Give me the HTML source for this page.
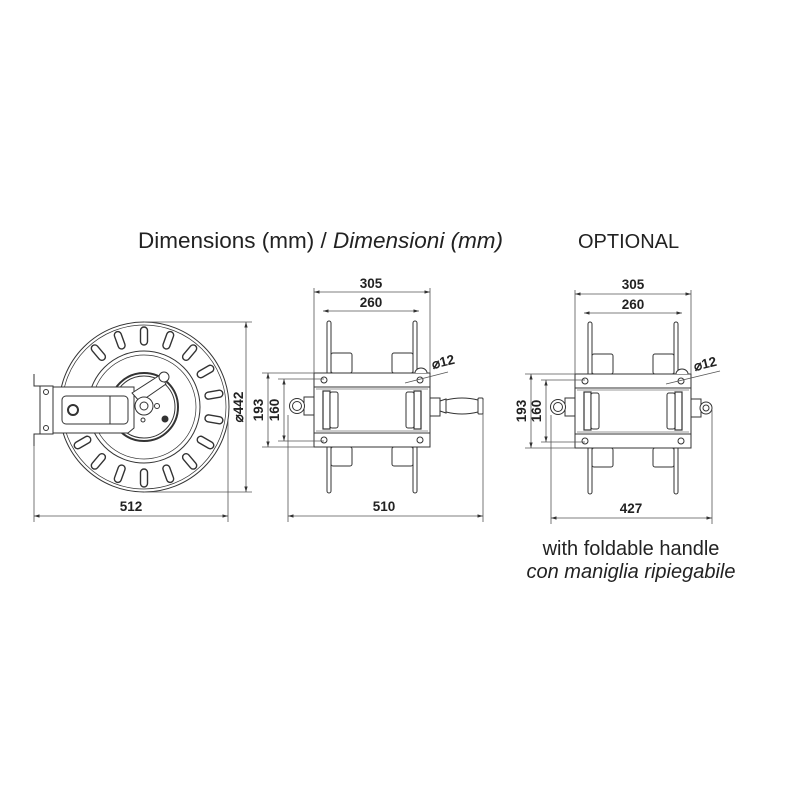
<!DOCTYPE html>
<html><head><meta charset="utf-8"><style>
html,body{margin:0;padding:0;background:#fff;}
svg{display:block;}
text{font-family:"Liberation Sans",sans-serif;fill:#222;}
.d{font-weight:bold;font-size:13.5px;}
</style></head><body>
<svg width="800" height="800" viewBox="0 0 800 800" xmlns="http://www.w3.org/2000/svg">
<defs>
<marker id="a" viewBox="0 0 10 10" refX="10" refY="5" markerWidth="7" markerHeight="7" orient="auto-start-reverse"><path d="M0,2 L10,5 L0,8 z" fill="#333"/></marker>
<g id="side" fill="#fff" stroke="#333" stroke-width="1">
  <rect x="17" y="353" width="21" height="20" rx="2"/>
  <rect x="17" y="447" width="21" height="19" rx="2"/>
  <rect x="78" y="353" width="21" height="20" rx="2"/>
  <rect x="78" y="447" width="21" height="19" rx="2"/>
  <rect x="13" y="321" width="4" height="172" rx="2"/>
  <rect x="99" y="321" width="4" height="172" rx="2"/>
  <rect x="0" y="373" width="116" height="74"/>
  <line x1="0" y1="387" x2="116" y2="387"/>
  <line x1="0" y1="433" x2="116" y2="433"/>
  <line x1="2" y1="389" x2="114" y2="389" stroke-width="0.6"/>
  <line x1="2" y1="431" x2="114" y2="431" stroke-width="0.6"/>
  <rect x="9" y="391" width="7" height="38" stroke-width="1.2"/>
  <rect x="16" y="392" width="8" height="36" rx="2"/>
  <rect x="100" y="391" width="7" height="38" stroke-width="1.2"/>
  <rect x="92" y="392" width="8" height="36" rx="2"/>
  <circle cx="10" cy="380" r="3"/><circle cx="10" cy="440" r="3"/>
  <circle cx="106" cy="440" r="3"/><circle cx="106" cy="380" r="3"/>
  <path d="M101,373 a6,5 0 0 1 12,0" />
  <rect x="-10" y="397" width="10" height="18"/>
  <circle cx="-17" cy="406" r="7.5"/>
  <circle cx="-17" cy="406" r="4.5"/>
</g>
</defs>

<text x="138" y="248" font-size="22.5" fill="#333">Dimensions (mm) / <tspan font-style="italic">Dimensioni (mm)</tspan></text>
<text x="578" y="248" font-size="20" fill="#333">OPTIONAL</text>

<!-- LEFT VIEW -->
<g fill="#fff" stroke="#333" stroke-width="1">
  <circle cx="144" cy="407" r="85"/>
  <circle cx="144" cy="407" r="82" stroke-width="0.7"/>
  <circle cx="144" cy="407" r="56"/>
  <circle cx="144" cy="407" r="52" stroke-width="0.7"/>
  <circle cx="144" cy="407" r="34" stroke-width="2" fill="none"/>
  <circle cx="144" cy="407" r="31"/>
  <g stroke-width="1.4">
    <rect x="140.5" y="327" width="7" height="18" rx="3.5" transform="rotate(0 144 407)"/>
    <rect x="140.5" y="327" width="7" height="18" rx="3.5" transform="rotate(20 144 407)"/>
    <rect x="140.5" y="327" width="7" height="18" rx="3.5" transform="rotate(40 144 407)"/>
    <rect x="140.5" y="327" width="7" height="18" rx="3.5" transform="rotate(60 144 407)"/>
    <rect x="140.5" y="327" width="7" height="18" rx="3.5" transform="rotate(80 144 407)"/>
    <rect x="140.5" y="327" width="7" height="18" rx="3.5" transform="rotate(100 144 407)"/>
    <rect x="140.5" y="327" width="7" height="18" rx="3.5" transform="rotate(120 144 407)"/>
    <rect x="140.5" y="327" width="7" height="18" rx="3.5" transform="rotate(140 144 407)"/>
    <rect x="140.5" y="327" width="7" height="18" rx="3.5" transform="rotate(160 144 407)"/>
    <rect x="140.5" y="327" width="7" height="18" rx="3.5" transform="rotate(180 144 407)"/>
    <rect x="140.5" y="327" width="7" height="18" rx="3.5" transform="rotate(200 144 407)"/>
    <rect x="140.5" y="327" width="7" height="18" rx="3.5" transform="rotate(220 144 407)"/>
    <rect x="140.5" y="327" width="7" height="18" rx="3.5" transform="rotate(240 144 407)"/>
    <rect x="140.5" y="327" width="7" height="18" rx="3.5" transform="rotate(-20 144 407)"/>
    <rect x="140.5" y="327" width="7" height="18" rx="3.5" transform="rotate(-40 144 407)"/>
  </g>
  <!-- bracket -->
  <path d="M53,387 L134,387 L134,428 L128,433 L53,433 Z"/>
  <rect x="40" y="386" width="13" height="48"/>
  <rect x="62" y="396" width="66" height="28" rx="4"/>
  <line x1="110" y1="396" x2="110" y2="424"/>
  <circle cx="73" cy="410" r="5" stroke-width="2"/>
  <circle cx="46" cy="392" r="2.5"/><circle cx="46" cy="428" r="2.5"/>
  <path d="M40,386 L34,386 L34,374 M40,434 L34,434 L34,446" fill="none"/>
  <!-- crank -->
  <path d="M132,393 L160,375 L166,384 L140,402 Z"/>
  <circle cx="164" cy="377" r="5"/>
  <circle cx="144" cy="406" r="9"/>
  <circle cx="144" cy="406" r="4"/>
  <circle cx="157" cy="406" r="2.5"/><circle cx="165" cy="419" r="3" fill="#333"/>
  <circle cx="143" cy="420" r="2"/>
</g>
<!-- left dims -->
<g stroke="#555" stroke-width="0.8" fill="none">
  <line x1="34" y1="446" x2="34" y2="522"/>
  <line x1="228" y1="420" x2="228" y2="522"/>
  <line x1="34" y1="516" x2="228" y2="516" marker-start="url(#a)" marker-end="url(#a)"/>
  <line x1="144" y1="322" x2="252" y2="322"/>
  <line x1="144" y1="492" x2="252" y2="492"/>
  <line x1="246" y1="322" x2="246" y2="492" marker-start="url(#a)" marker-end="url(#a)"/>
</g>
<text class="d" x="131" y="511" text-anchor="middle">512</text>
<text class="d" transform="translate(243 407) rotate(-90)" text-anchor="middle">⌀442</text>

<!-- MIDDLE VIEW -->
<use href="#side" transform="translate(314 0)"/>
<g fill="#fff" stroke="#333" stroke-width="1">
  <rect x="430" y="398" width="10" height="18"/>
  <path d="M440,401 L446,399 L446,413 L440,411 Z"/>
  <path d="M446,400 Q462,396 478,400 L478,412 Q462,416 446,412 Z"/>
  <rect x="478" y="398" width="5" height="16" rx="1"/>
</g>
<g stroke="#555" stroke-width="0.8" fill="none">
  <line x1="314" y1="288" x2="314" y2="373"/>
  <line x1="430" y1="288" x2="430" y2="373"/>
  <line x1="314" y1="292" x2="430" y2="292" marker-start="url(#a)" marker-end="url(#a)"/>
  <line x1="323" y1="311" x2="419" y2="311" marker-start="url(#a)" marker-end="url(#a)"/>
  <line x1="262" y1="373" x2="314" y2="373"/>
  <line x1="262" y1="447" x2="314" y2="447"/>
  <line x1="268" y1="373" x2="268" y2="447" marker-start="url(#a)" marker-end="url(#a)"/>
  <line x1="278" y1="379" x2="324" y2="379"/>
  <line x1="278" y1="441" x2="324" y2="441"/>
  <line x1="284" y1="379" x2="284" y2="441" marker-start="url(#a)" marker-end="url(#a)"/>
  <line x1="288" y1="415" x2="288" y2="522"/>
  <line x1="483" y1="400" x2="483" y2="522"/>
  <line x1="288" y1="516" x2="483" y2="516" marker-start="url(#a)" marker-end="url(#a)"/>
  <line x1="405" y1="383" x2="448" y2="372"/>
</g>
<text class="d" x="371" y="288" text-anchor="middle">305</text>
<text class="d" x="371" y="307" text-anchor="middle">260</text>
<text class="d" x="384" y="511" text-anchor="middle">510</text>
<text class="d" transform="translate(263 410) rotate(-90)" text-anchor="middle">193</text>
<text class="d" transform="translate(279 410) rotate(-90)" text-anchor="middle">160</text>
<text class="d" transform="translate(433 369) rotate(-14)">⌀12</text>

<!-- RIGHT VIEW -->
<use href="#side" transform="translate(575 1)"/>
<g fill="#fff" stroke="#333" stroke-width="1">
  <rect x="691" y="399" width="10" height="18"/>
  <circle cx="706" cy="408" r="6"/>
  <circle cx="706" cy="408" r="3"/>
</g>
<g stroke="#555" stroke-width="0.8" fill="none">
  <line x1="575" y1="290" x2="575" y2="374"/>
  <line x1="691" y1="290" x2="691" y2="374"/>
  <line x1="575" y1="294" x2="691" y2="294" marker-start="url(#a)" marker-end="url(#a)"/>
  <line x1="584" y1="313" x2="682" y2="313" marker-start="url(#a)" marker-end="url(#a)"/>
  <line x1="525" y1="374" x2="575" y2="374"/>
  <line x1="525" y1="448" x2="575" y2="448"/>
  <line x1="531" y1="374" x2="531" y2="448" marker-start="url(#a)" marker-end="url(#a)"/>
  <line x1="541" y1="380" x2="585" y2="380"/>
  <line x1="541" y1="442" x2="585" y2="442"/>
  <line x1="546" y1="380" x2="546" y2="442" marker-start="url(#a)" marker-end="url(#a)"/>
  <line x1="551" y1="415" x2="551" y2="524"/>
  <line x1="712" y1="410" x2="712" y2="524"/>
  <line x1="551" y1="518" x2="712" y2="518" marker-start="url(#a)" marker-end="url(#a)"/>
  <line x1="666" y1="384" x2="720" y2="371"/>
</g>
<text class="d" x="633" y="289" text-anchor="middle">305</text>
<text class="d" x="633" y="309" text-anchor="middle">260</text>
<text class="d" x="631" y="513" text-anchor="middle">427</text>
<text class="d" transform="translate(526 411) rotate(-90)" text-anchor="middle">193</text>
<text class="d" transform="translate(541 411) rotate(-90)" text-anchor="middle">160</text>
<text class="d" transform="translate(695 371) rotate(-14)">⌀12</text>

<text x="631" y="555" font-size="20" fill="#333" text-anchor="middle">with foldable handle</text>
<text x="631" y="578" font-size="20" fill="#333" text-anchor="middle" font-style="italic">con maniglia ripiegabile</text>
</svg>
</body></html>
